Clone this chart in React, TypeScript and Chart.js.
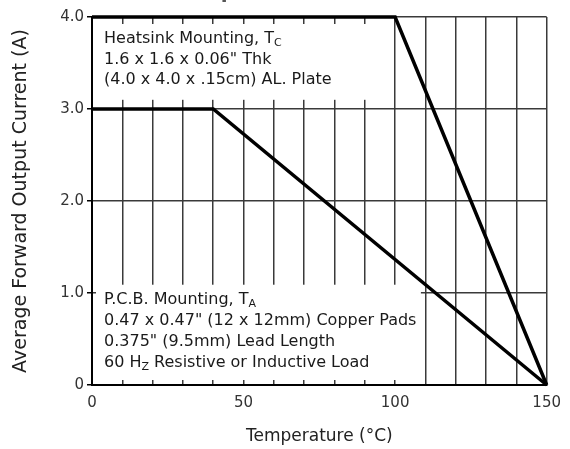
import React, { useEffect, useRef } from 'react';
import { Chart, registerables } from 'chart.js';

Chart.register(...registerables);

// ---- data ----
const heatsinkTemp = [0, 100, 150];
const heatsinkCurrent = [4.0, 4.0, 0];
const pcbTemp = [0, 40, 150];
const pcbCurrent = [3.0, 3.0, 0];
const xLabelValues = [0, 50, 100, 150];
const chartTitle = 'Output Rectified Current';
const xTitle = 'Temperature (°C)';
const yTitle = 'Average Forward Output Current (A)';
// segments: [text, isSubscript]
const heatsinkNote: [string, boolean][][] = [
  [['Heatsink Mounting, T', false], ['C', true]],
  [['1.6 x 1.6 x 0.06" Thk', false]],
  [['(4.0 x 4.0 x .15cm) AL. Plate', false]],
];
const pcbNote: [string, boolean][][] = [
  [['P.C.B. Mounting, T', false], ['A', true]],
  [['0.47 x 0.47" (12 x 12mm) Copper Pads', false]],
  [['0.375" (9.5mm) Lead Length', false]],
  [['60 H', false], ['Z', true], [' Resistive or Inductive Load', false]],
];

const FONT = '"DejaVu Sans", sans-serif';

function drawNote(ctx: CanvasRenderingContext2D, lines: [string, boolean][][], x: number, y0: number, lh: number) {
  lines.forEach((segs, i) => {
    let cx = x;
    const by = y0 + i * lh;
    segs.forEach(([t, sub]) => {
      ctx.font = sub ? `11px ${FONT}` : `16px ${FONT}`;
      ctx.fillText(t, cx, sub ? by + 3 : by);
      cx += ctx.measureText(t).width;
    });
  });
}

const overlay = {
  id: 'overlay',
  beforeDatasetsDraw(chart: any) {
    const { ctx, chartArea: a, scales } = chart;
    const x = scales.x, y = scales.y;
    ctx.save();
    ctx.fillStyle = '#ffffff';
    const tx1 = a.left + 1, tx2 = x.getPixelForValue(98.5);
    const ty1 = a.top + 7, ty2 = y.getPixelForValue(3.1);
    ctx.fillRect(tx1, ty1, tx2 - tx1, ty2 - ty1);
    const bx1 = a.left + 4, bx2 = x.getPixelForValue(108.5);
    const by1 = y.getPixelForValue(1.09), by2 = a.bottom - 5;
    ctx.fillRect(bx1, by1, bx2 - bx1, by2 - by1);
    ctx.restore();
  },
  afterDraw(chart: any) {
    const { ctx, chartArea: a } = chart;
    ctx.save();
    ctx.fillStyle = '#1a1a1a';
    ctx.textBaseline = 'alphabetic';
    ctx.textAlign = 'left';
    drawNote(ctx, heatsinkNote, a.left + 12, a.top + 26, 20.5);
    drawNote(ctx, pcbNote, a.left + 12, a.bottom - 81, 21);
    ctx.font = `bold 20px ${FONT}`;
    ctx.textAlign = 'center';
    ctx.fillStyle = '#555';
    ctx.fillText(chartTitle, (a.left + a.right) / 2, -2);
    ctx.restore();
  },
};

export default function App() {
  const ref = useRef<HTMLCanvasElement | null>(null);
  useEffect(() => {
    if (!ref.current) return;
    const chart = new Chart(ref.current, {
      type: 'line',
      data: {
        datasets: [
          {
            label: 'Heatsink',
            data: heatsinkTemp.map((t, i) => ({ x: t, y: heatsinkCurrent[i] })),
            borderColor: '#000',
            borderWidth: 3.5,
            pointRadius: 0,
            fill: false,
            clip: false as any,
          },
          {
            label: 'PCB',
            data: pcbTemp.map((t, i) => ({ x: t, y: pcbCurrent[i] })),
            borderColor: '#000',
            borderWidth: 3.5,
            pointRadius: 0,
            fill: false,
            clip: false as any,
          },
        ],
      },
      options: {
        animation: false,
        responsive: false,
        layout: { padding: { top: 17, right: 17, left: 0, bottom: 0 } },
        plugins: { legend: { display: false }, tooltip: { enabled: false }, title: { display: false } },
        scales: {
          x: {
            type: 'linear',
            min: 0,
            max: 150,
            afterFit: (s: any) => { s.height = 64; },
            ticks: {
              stepSize: 10,
              autoSkip: false,
              maxRotation: 0,
              padding: 9,
              color: '#333',
              font: { family: FONT, size: 15 },
              callback: (v: any) => (xLabelValues.includes(Number(v)) ? String(v) : ''),
            },
            grid: { color: '#3a3a3a', lineWidth: 1.5, drawTicks: false },
            border: { color: '#000', width: 2 },
            title: {
              display: true,
              text: xTitle,
              color: '#222',
              font: { family: FONT, size: 17 },
              padding: { top: 0, bottom: 2 },
            },
          },
          y: {
            type: 'linear',
            min: 0,
            max: 4,
            afterFit: (s: any) => { s.width = 92; },
            ticks: {
              stepSize: 1,
              padding: 3,
              color: '#333',
              font: { family: FONT, size: 15 },
              callback: (v: any) => (Number(v) === 0 ? '0' : Number(v).toFixed(1)),
            },
            grid: { color: '#3a3a3a', lineWidth: 1.5, drawTicks: true, tickLength: 5, tickColor: '#000' },
            border: { color: '#000', width: 2 },
            title: {
              display: true,
              text: yTitle,
              color: '#222',
              font: { family: FONT, size: 19 },
              padding: { top: 10, bottom: 0 },
            },
          },
        },
      },
      plugins: [overlay],
    });
    return () => chart.destroy();
  }, []);
  return (
    <div style={{ position: 'fixed', left: 0, top: 0, width: 570, height: 449, background: '#fff' }}>
      <canvas ref={ref} width={570} height={449} style={{ display: 'block' }} />
    </div>
  );
}
